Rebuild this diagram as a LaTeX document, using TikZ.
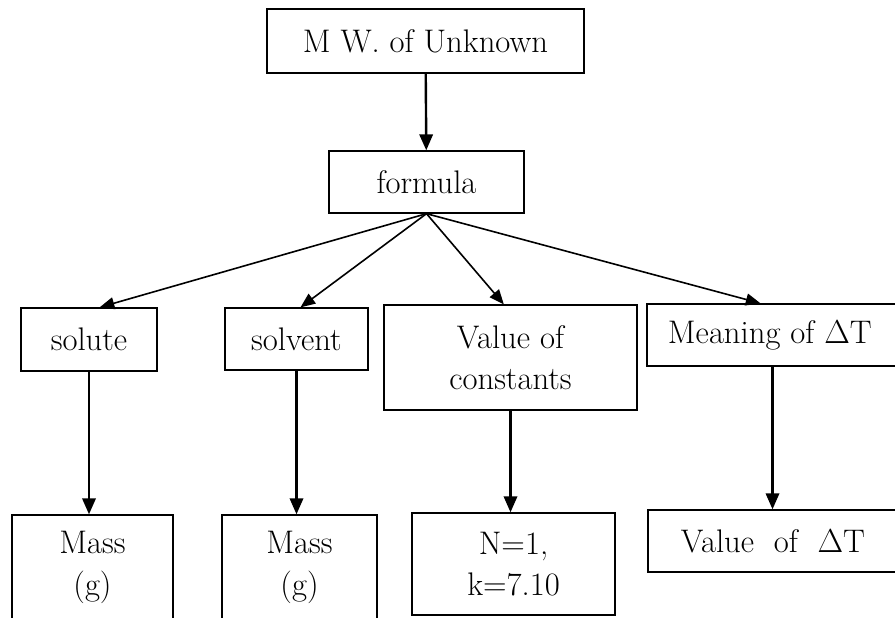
\documentclass[tikz,border=0pt]{standalone}
\usepackage{amsmath,amssymb}
\usepackage{xcolor}
\usepackage{tikz}
\usetikzlibrary{arrows.meta,positioning}

\begin{document}
\begin{tikzpicture}[
    x=0.75pt, y=-0.75pt,
    font=\fontsize{24.5}{31}\selectfont,
    box/.style={draw, line width=1pt, align=center, inner sep=0pt},
    arrow/.style={-{Triangle[length=11pt,width=9pt]}, line width=1.2pt},
    down/.style={-{Triangle[length=12pt,width=10pt]}, line width=1.8pt}
]
\clip (0,0) rectangle (895,617);
\node[box, minimum width=237.75pt, minimum height=48pt] (mw) at (425.5,41) {M W. of Unknown};
\node[box, minimum width=146.25pt, minimum height=46.5pt] (form) at (426.5,182) {formula};
\node[box, minimum width=102pt, minimum height=47.25pt] (solute) at (89,339.5) {solute};
\node[box, minimum width=107.25pt, minimum height=46.5pt] (solvent) at (296.5,339) {solvent};
\node[box, minimum width=189.75pt, minimum height=78.75pt] (const) at (510.5,357.5) {Value of\\constants};
\node[box, minimum width=188.25pt, minimum height=46.5pt] (mean) at (772.5,335) {\hspace*{-4pt}Meaning of $\Delta$T};
\node[box, minimum width=120.75pt, minimum height=78.75pt] (mass1) at (92.5,567.5) {Mass\\(g)};
\node[box, minimum width=116.25pt, minimum height=78.75pt] (mass2) at (299.5,567.5) {Mass\\(g)};
\node[box, minimum width=152.25pt, minimum height=76.5pt] (nval) at (513.5,564) {N=1,\\k=7.10};
\node[box, minimum width=187.5pt, minimum height=46.5pt] (dT) at (773,541) {Value \ of \ $\Delta$T};
\draw[down] (mw) -- (form);
\draw[arrow] (form.south) -- ([xshift=8pt]solute.north);
\draw[arrow] (form.south) -- ([xshift=3pt]solvent.north);
\draw[arrow] (form.south) -- ([xshift=-5pt]const.north);
\draw[arrow] (form.south) -- ([xshift=-9pt]mean.north);
\draw[down] (solute.south) -- (solute.south |- mass1.north);
\draw[down] (solvent.south) -- (solvent.south |- mass2.north);
\draw[down] (const.south) -- (const.south |- nval.north);
\draw[down] (mean.south) -- (mean.south |- dT.north);
\end{tikzpicture}
\end{document}
